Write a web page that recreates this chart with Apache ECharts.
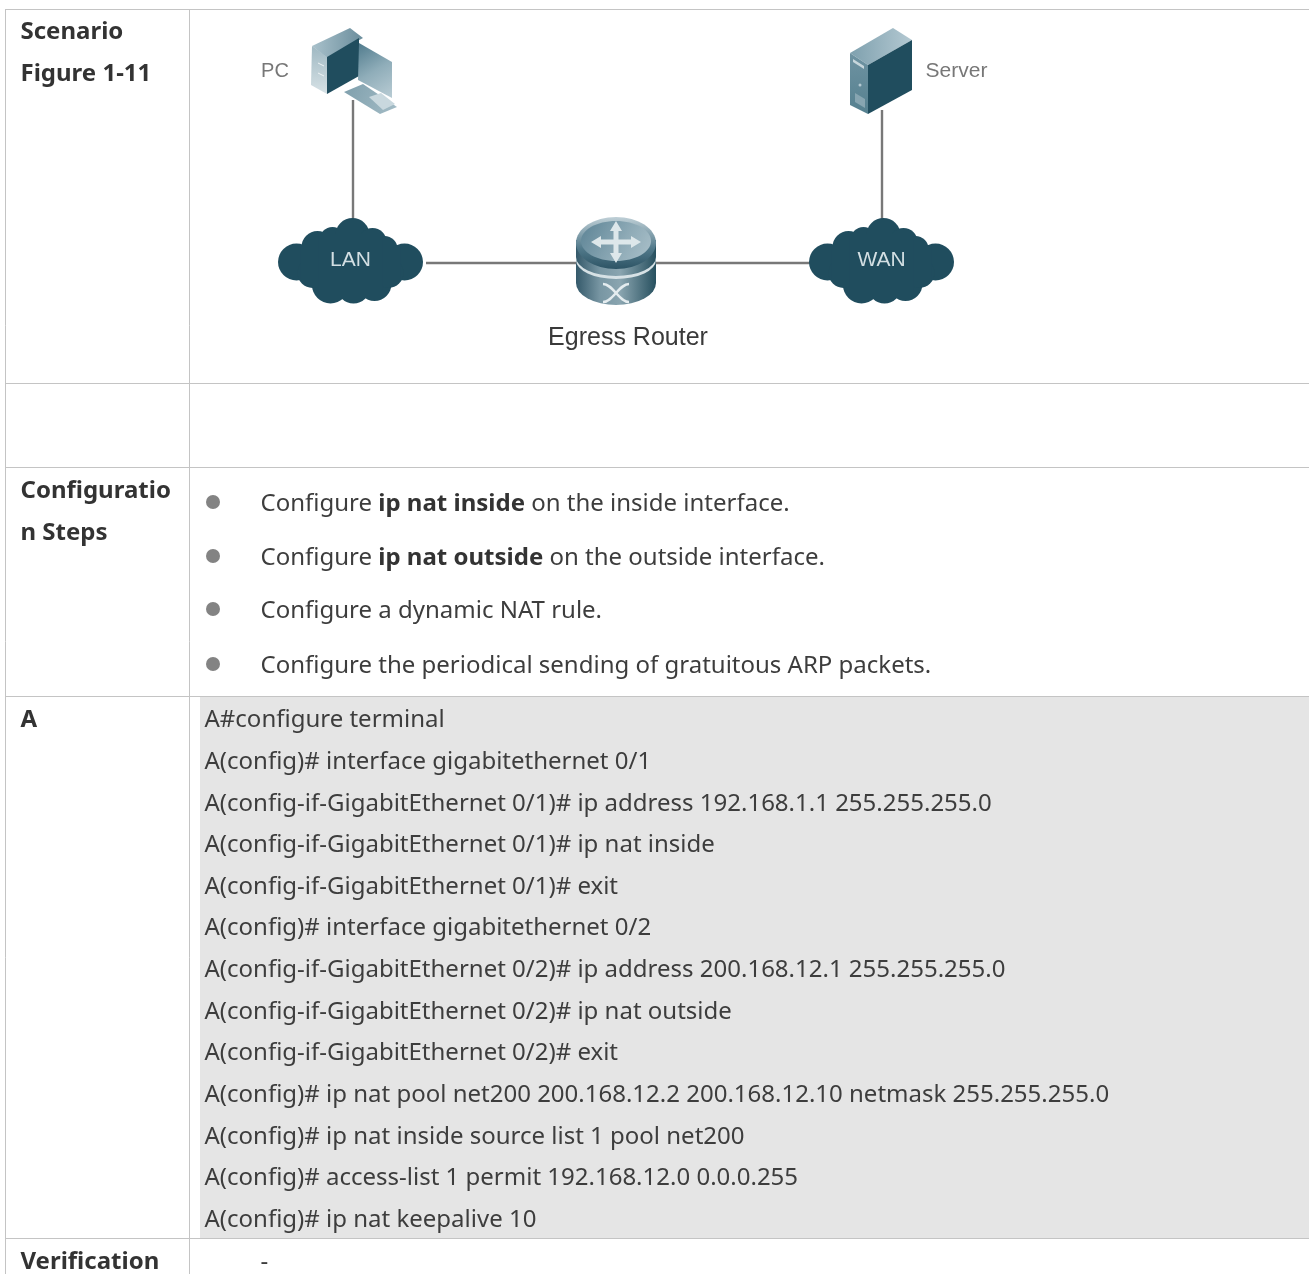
<!DOCTYPE html>
<html><head><meta charset="utf-8">
<script src="https://cdn.jsdelivr.net/npm/echarts@6/dist/echarts.min.js"></script>
<style>html,body{margin:0;padding:0;background:#fff}#c{width:1309px;height:1274px}</style>
</head><body><div id="c"></div>
<script>
var rowLabels = [
  ['Scenario', 30], ['Figure 1-11', 72], ['Configuratio', 489], ['n Steps', 531],
  ['A', 718], ['Verification', 1260]
];
var steps = [
  ['{n|Configure }{b|ip nat inside}{n| on the inside interface.}', 502],
  ['{n|Configure }{b|ip nat outside}{n| on the outside interface.}', 556],
  ['{n|Configure a dynamic NAT rule.}', 609],
  ['{n|Configure the periodical sending of gratuitous ARP packets.}', 664]
];
var codeLines = [
  'A#configure terminal',
  'A(config)# interface gigabitethernet 0/1',
  'A(config-if-GigabitEthernet 0/1)# ip address 192.168.1.1 255.255.255.0',
  'A(config-if-GigabitEthernet 0/1)# ip nat inside',
  'A(config-if-GigabitEthernet 0/1)# exit',
  'A(config)# interface gigabitethernet 0/2',
  'A(config-if-GigabitEthernet 0/2)# ip address 200.168.12.1 255.255.255.0',
  'A(config-if-GigabitEthernet 0/2)# ip nat outside',
  'A(config-if-GigabitEthernet 0/2)# exit',
  'A(config)# ip nat pool net200 200.168.12.2 200.168.12.10 netmask 255.255.255.0',
  'A(config)# ip nat inside source list 1 pool net200',
  'A(config)# access-list 1 permit 192.168.12.0 0.0.0.255',
  'A(config)# ip nat keepalive 10'
];
var codeY = [718,760,802,843,885,926,968,1010,1051,1093,1135,1176,1218];
var rowRules = [9, 383, 467, 696, 1238];
var colRules = [5, 189];

var nodeNames = ['pc','lanTop','lanRight','routerLeft','routerRight','wanLeft','wanTop','server'];
var nodeX = [352.5,352.5,426,580,655,812,881.5,881.5];
var nodeY = [100,225,262.3,262.3,262.3,262.3,225,110];
var linkPairs = [['pc','lanTop'],['lanRight','routerLeft'],['routerRight','wanLeft'],['wanTop','server']];

var deviceKinds = ['pc','server','cloud','cloud','router'];
var deviceX = [377,881,350.5,881.5,616];
var deviceY = [60,80,262,262,261];
var deviceText = ['','','LAN','WAN',''];

var deviceLabels = [
  ['PC', 275, 71, 20, '#777777'], ['Server', 956.5, 71, 21, '#777777'], ['Egress Router', 628, 338, 25, '#3a3a3a']
];

var G = echarts.graphic, DARK = '#204d5e';
function lg(x0,y0,x1,y1,stops){return new G.LinearGradient(x0,y0,x1,y1,stops.map(function(s){return {offset:s[0],color:s[1]};}));}
function poly(pts,fill){return {type:'polygon',shape:{points:pts},style:{fill:fill}};}
function circ(x,y,r,fill){return {type:'circle',shape:{cx:x,cy:y,r:r},style:{fill:fill}};}

function cloud(text){
  var lobes=[[-54,0,18.5],[54,0,18.5],[-33,-15,16],[-18,-22,13],[2,-27,17],[22,-20,14],[34,-13,13],[-20,23,18.5],[3,25,16.5],[24,22,17],[-38,11,15],[38,11,15]];
  var ch=lobes.map(function(l){return circ(l[0],l[1],l[2],DARK);});
  ch.push({type:'rect',shape:{x:-50,y:-17,width:100,height:34},style:{fill:DARK}});
  ch.push({type:'rect',shape:{x:-32,y:-28,width:64,height:60},style:{fill:DARK}});
  ch.push({type:'text',style:{text:text,x:0,y:-2,align:'center',verticalAlign:'middle',font:'21px "Liberation Sans"',fill:'#d3dfe3'}});
  return ch;
}
function pc(){
  return [
    poly([[-65,-14],[-27,-32],[-14,-22],[-50,-2]],lg(0,0,1,0,[[0,'#a9c1cb'],[1,'#6a8d9c']])),
    poly([[-65,-14],[-50,-3],[-50,34],[-66,25]],lg(0,0,0,1,[[0,'#9fb8c2'],[1,'#d7e2e6']])),
    poly([[-50,-3],[-18,-22],[-18,16],[-50,34]],DARK),
    poly([[-18,-17],[15,2],[15,38],[-19,20]],lg(0,0,1,1,[[0,'#4f7a8c'],[0.5,'#8fadb9'],[1,'#b9ccd4']])),
    poly([[-33,32],[-14,24],[20,47],[3,54]],lg(0,0,1,1,[[0,'#7e9fac'],[1,'#a4bcc6']])),
    poly([[-8,37],[4,33],[18,44],[6,50]],'#c9d8de'),
    {type:'line',shape:{x1:-59,y1:3,x2:-53,y2:6},style:{stroke:'#eef3f5',lineWidth:1}},
    {type:'line',shape:{x1:-59,y1:13,x2:-53,y2:16},style:{stroke:'#eef3f5',lineWidth:1}}
  ];
}
function server(){
  return [
    poly([[-31,-27],[12,-52],[31,-40],[-13,-15]],lg(0,0,1,0,[[0,'#7ea0ae'],[1,'#b4c9d2']])),
    poly([[-31,-27],[-13,-15],[-13,34],[-31,25]],lg(0,0,0,1,[[0,'#6f93a2'],[1,'#55808f']])),
    poly([[-13,-15],[31,-40],[31,10],[-13,34]],DARK),
    poly([[-28,-21],[-17,-14],[-17,-11],[-28,-18]],'#c7d6dc'),
    poly([[-26,13],[-16,19],[-16,28],[-26,22]],'#87a5b1'),
    circ(-21,5,1.5,'#b4c9d2')
  ];
}
function arrow(cx,cy,dx,dy){
  var nx=-dy,ny=dx,L=Math.sqrt(dx*dx+dy*dy),ux=nx/L,uy=ny/L,bx=dx/L,by=dy/L;
  var headBack=10;
  return poly([
    [cx+ux*2.5,cy+uy*2.5],
    [cx+dx-bx*headBack+ux*2.5,cy+dy-by*headBack+uy*2.5],
    [cx+dx-bx*headBack+ux*6,cy+dy-by*headBack+uy*6],
    [cx+dx,cy+dy],
    [cx+dx-bx*headBack-ux*6,cy+dy-by*headBack-uy*6],
    [cx+dx-bx*headBack-ux*2.5,cy+dy-by*headBack-uy*2.5],
    [cx-ux*2.5,cy-uy*2.5]
  ],'#dde7ea');
}
function router(){
  var body=lg(0,0,1,0,[[0,'#34596a'],[0.3,'#7896a3'],[0.55,'#8aa5b0'],[1,'#27505f']]);
  var xs=function(p1,c1,c2,p2){return {type:'bezierCurve',shape:{x1:p1[0],y1:p1[1],cpx1:c1[0],cpy1:c1[1],cpx2:c2[0],cpy2:c2[1],x2:p2[0],y2:p2[1]},style:{stroke:'#e4ecef',lineWidth:2.4,fill:'none'}};};
  return [
    {type:'path',shape:{pathData:'M-40,-21 L-40,22 A40,22 0 0 0 40,22 L40,-21 Z'},style:{fill:body}},
    {type:'ellipse',shape:{cx:0,cy:-18,rx:40,ry:26},style:{fill:lg(0,0,0,1,[[0,'#c0d0d7'],[0.6,'#527a8b'],[1,'#2d5465']])}},
    {type:'ellipse',shape:{cx:0,cy:-20,rx:35,ry:20},style:{fill:lg(0,0,1,1,[[0,'#5c8395'],[0.6,'#8fabb7'],[1,'#abc1ca']])}},
    {type:'path',shape:{pathData:'M-40,-4 A40,19 0 0 0 40,-4 L40,-1 A40,19 0 0 1 -40,-1 Z'},style:{fill:'#d6e1e5'}},
    arrow(0,-19,-25,0),arrow(0,-19,25,0),arrow(0,-19,0,-21),arrow(0,-19,0,21),
    xs([-13,23],[-3,23],[3,41],[13,41]),
    xs([-13,41],[-3,41],[3,23],[13,23])
  ];
}

var graphic=[];
rowRules.forEach(function(y){graphic.push({type:'line',silent:true,shape:{x1:5,y1:y+0.5,x2:1309,y2:y+0.5},style:{stroke:'#c4c4c4',lineWidth:1},z:2});});
colRules.forEach(function(x){graphic.push({type:'line',silent:true,shape:{x1:x+0.5,y1:9,x2:x+0.5,y2:1274},style:{stroke:'#c4c4c4',lineWidth:1},z:2});});
graphic.push({type:'rect',silent:true,shape:{x:200,y:697,width:1109,height:541},style:{fill:'#e5e5e5'},z:1});
var FS=24;
var NF='"Noto Sans"';
var TY=2;
rowLabels.forEach(function(r){graphic.push({type:'text',silent:true,z:3,style:{x:20.5,y:r[1]+TY,text:r[0],verticalAlign:'middle',font:'bold '+FS+'px '+NF,fill:'#333333'}});});
steps.forEach(function(r){
  graphic.push({type:'circle',silent:true,z:3,shape:{cx:213,cy:r[1],r:7},style:{fill:'#838383'}});
  graphic.push({type:'text',silent:true,z:3,style:{x:260.5,y:r[1]+TY,text:r[0],verticalAlign:'middle',rich:{
    n:{font:FS+'px '+NF,fill:'#3d3d3d'},b:{font:'bold '+FS+'px '+NF,fill:'#333333'}}}});
});
codeLines.forEach(function(t,i){graphic.push({type:'text',silent:true,z:3,style:{x:204.5,y:codeY[i]+TY,text:t,verticalAlign:'middle',font:FS+'px '+NF,fill:'#3d3d3d'}});});
graphic.push({type:'text',silent:true,z:3,style:{x:260.5,y:1260+TY,text:'-',verticalAlign:'middle',font:FS+'px '+NF,fill:'#3d3d3d'}});
deviceLabels.forEach(function(l){graphic.push({type:'text',silent:true,z:3,style:{x:l[1],y:l[2],text:l[0],align:'center',verticalAlign:'middle',font:l[3]+'px "Liberation Sans"',fill:l[4]}});});

var chart=echarts.init(document.getElementById('c'),null,{renderer:'canvas'});
chart.setOption({
  animation:false,
  backgroundColor:'#ffffff',
  grid:{left:0,right:0,top:0,bottom:0},
  xAxis:{type:'value',min:0,max:1309,show:false},
  yAxis:{type:'value',min:0,max:1274,inverse:true,show:false},
  graphic:graphic,
  series:[
    {type:'graph',coordinateSystem:'cartesian2d',layout:'none',z:3,silent:true,symbolSize:0,
     data:nodeNames.map(function(n,i){return {name:n,value:[nodeX[i],nodeY[i]]};}),
     links:linkPairs.map(function(p){return {source:p[0],target:p[1]};}),
     label:{show:false},lineStyle:{color:'#787878',width:2.4,opacity:1,curveness:0}},
    {type:'custom',coordinateSystem:'cartesian2d',z:4,silent:true,
     data:deviceKinds.map(function(k,i){return [deviceX[i],deviceY[i],i];}),
     encode:{x:0,y:1},
     renderItem:function(p,api){
       var pos=api.coord([api.value(0),api.value(1)]),i=api.value(2),k=deviceKinds[i];
       var ch=k==='cloud'?cloud(deviceText[i]):k==='pc'?pc():k==='server'?server():router();
       return {type:'group',x:pos[0],y:pos[1],children:ch};
     }}
  ]
});
</script></body></html>
